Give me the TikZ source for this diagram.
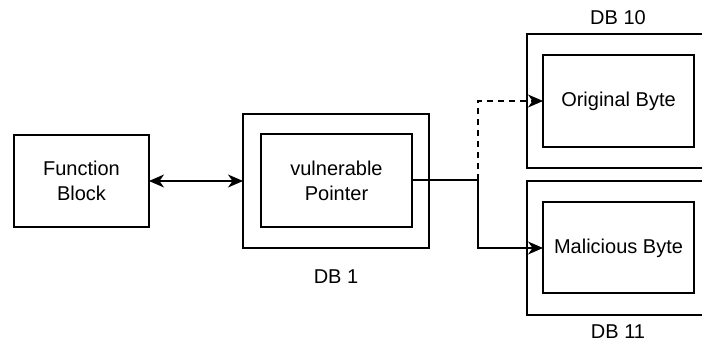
\documentclass[tikz,border=0pt]{standalone}
\usepackage{fontspec}
\setmainfont{Liberation Sans}
\usetikzlibrary{arrows.meta}
\begin{document}
\begin{tikzpicture}[x=1pt,y=-1pt,
  box/.style={draw, line width=1.4pt, inner sep=0pt},
  lbl/.style={font=\fontsize{20}{25}\selectfont, align=center, inner sep=0pt},
  conn/.style={line width=1.4pt, -{Stealth[length=15pt,width=13pt,inset=4.5pt]}},
  biconn/.style={line width=1.4pt, {Stealth[length=15pt,width=13pt,inset=4.5pt]}-{Stealth[length=15pt,width=13pt,inset=4.5pt]}},
  dashconn/.style={conn, dash pattern=on 6pt off 5pt}]
\useasboundingbox (0,0) rectangle (702,343);
\clip (0,0) rectangle (702,343);

% function block
\draw[box] (14,135) rectangle (149,227);
\node[lbl] (fb) at (81.5,181) {Function\\Block};
\coordinate (fbE) at (149,181);

% DB 1 with its pointer
\draw[box] (243,114) rectangle (429,248);
\coordinate (db1W) at (243,181);
\draw[box] (261,134) rectangle (412,227);
\node[lbl] (vp) at (336.5,181) {vulnerable\\Pointer};
\coordinate (vpE) at (412,180);
\node[lbl] (db1) at (336,277) {DB 1};

% DB 10
\draw[box] (527,34) rectangle (712,168);
\draw[box] (543,55) rectangle (694,147);
\node[lbl] (ob) at (618.5,101) {Original Byte};
\coordinate (obW) at (543,101);
\node[lbl] (db10) at (618,18) {DB 10};

% DB 11
\draw[box] (527,181) rectangle (712,315);
\draw[box] (543,202) rectangle (694,293);
\node[lbl] (mb) at (618.5,248) {Malicious Byte};
\coordinate (mbW) at (543,248);
\node[lbl] (db11) at (618,332) {DB 11};

% connectors
\draw[biconn] (fbE) -- (db1W);
\draw[conn] (vpE) -| (478,248) -- (mbW);
\draw[dashconn] (vpE) -| (478,101) -- (obW);
\end{tikzpicture}
\end{document}
